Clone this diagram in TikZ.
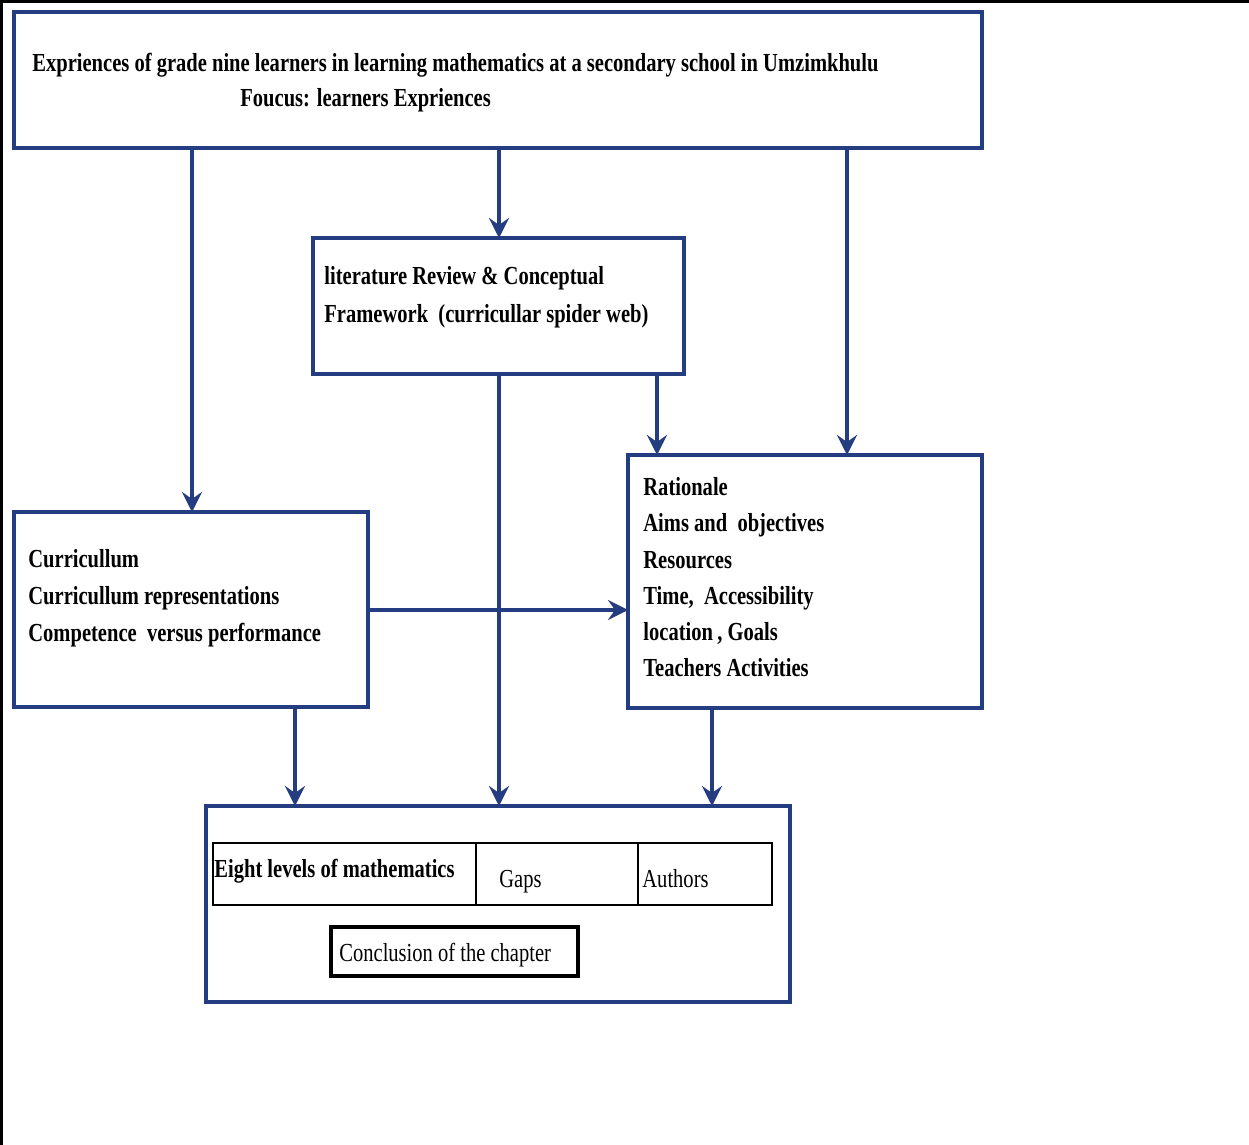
\documentclass[tikz,border=0pt]{standalone}
\usepackage{fontspec}
\setmainfont{Liberation Serif}[FakeStretch=0.79]
\usetikzlibrary{arrows.meta}
\definecolor{navy}{RGB}{36,60,128}
\begin{document}
\begin{tikzpicture}[x={(0.5pt,0)},y={(0,-0.5pt)},
  box/.style={draw=navy,line width=2.2pt,anchor=north west,inner sep=0pt,outer sep=0pt},
  cell/.style={draw=black,line width=0.75pt,anchor=north west,inner sep=0pt,outer sep=0pt},
  tb/.style={anchor=base west,inner sep=0pt,font=\fontsize{13pt}{18pt}\selectfont\bfseries},
  tr/.style={anchor=base west,inner sep=0pt,font=\fontsize{13pt}{18pt}\selectfont},
  arr/.style={draw=navy,line width=1.8pt,-{Stealth[length=10pt,width=10pt,inset=3.5pt]}}]
\useasboundingbox (0,0) rectangle (1249,1145);
% frame
\draw[line width=1.5pt] (1.5,1145) -- (1.5,1.5) -- (1249,1.5);
% boxes
\node[box,minimum width=484pt,minimum height=68pt] (top) at (14,12) {};
\node[box,minimum width=185.5pt,minimum height=68pt] (lit) at (313,238) {};
\node[box,minimum width=177pt,minimum height=126.5pt] (rat) at (628,455) {};
\node[box,minimum width=177pt,minimum height=97.5pt] (cur) at (14,512) {};
\node[box,minimum width=292pt,minimum height=98pt] (bot) at (206,806) {};
% table
\node[cell,minimum width=131.5pt,minimum height=31pt] (c1) at (213,843) {};
\node[cell,minimum width=81pt,minimum height=31pt] (c2) at (476,843) {};
\node[cell,minimum width=67pt,minimum height=31pt] (c3) at (638,843) {};
\node[draw=black,line width=2.2pt,anchor=north west,inner sep=0pt,outer sep=0pt,minimum width=123.5pt,minimum height=24.5pt] (con) at (331,927) {};
% texts
\node[tb] (t1) at (32,72) {Expriences of grade nine learners in learning mathematics at a secondary school in Umzimkhulu};
\node[tb] (t2) at (240,107) {Foucus: learners Expriences};
\node[tb] (l1) at (324,285) {literature Review \& Conceptual};
\node[tb] (l2) at (324,322) {Framework\ \ (curricullar spider web)};
\node[tb] (u1) at (28,567) {Curricullum};
\node[tb] (u2) at (28,604) {Curricullum representations};
\node[tb] (u3) at (28,641) {Competence\ \ versus performance};
\node[tb] (r1) at (643,495) {Rationale};
\node[tb] (r2) at (643,531) {Aims and\ \ objectives};
\node[tb] (r3) at (643,568) {Resources};
\node[tb] (r4) at (643,604) {Time,\ \ Accessibility};
\node[tb] (r5) at (643,640) {location\,,\ Goals};
\node[tb] (r6) at (643,676) {Teachers Activities};
\node[tb] (e1) at (214,877) {Eight levels of mathematics};
\node[tr] (e2) at (499,887) {Gaps};
\node[tr] (e3) at (642,887) {Authors};
\node[tr] (e4) at (339,961) {Conclusion of the chapter};
% x positions
\coordinate (xa) at (192,0);
\coordinate (xb) at (499,0);
\coordinate (xc) at (847,0);
\coordinate (xd) at (657,0);
\coordinate (xe) at (295,0);
\coordinate (xf) at (712,0);
\coordinate (yh) at (0,610);
% connectors
\draw[arr] (top.south -| xa) -- (cur.north -| xa);
\draw[arr] (top.south -| xb) -- (lit.north -| xb);
\draw[arr] (top.south -| xc) -- (rat.north -| xc);
\draw[arr] (lit.south -| xd) -- (rat.north -| xd);
\draw[arr] (lit.south -| xb) -- (bot.north -| xb);
\draw[arr] (cur.south -| xe) -- (bot.north -| xe);
\draw[arr] (rat.south -| xf) -- (bot.north -| xf);
\draw[arr] (cur.east |- yh) -- (rat.west |- yh);
\end{tikzpicture}
\end{document}
